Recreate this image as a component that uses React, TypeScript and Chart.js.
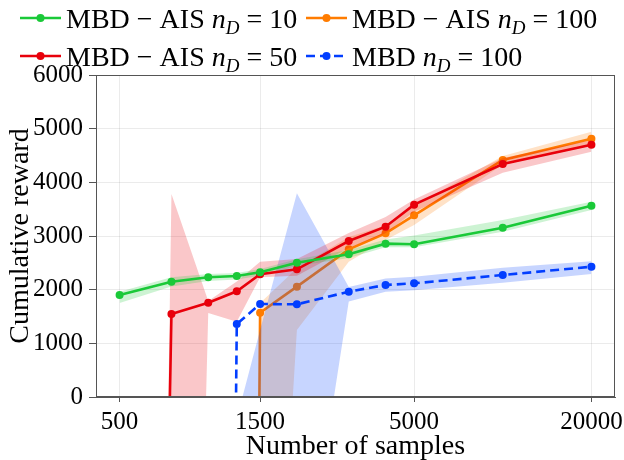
import React, { useEffect, useRef } from 'react';
import { Chart, registerables } from 'chart.js';

Chart.register(...registerables);

// ---- data ----
const SAMPLES = [500, 750, 1000, 1250, 1500, 2000, 3000, 4000, 5000, 10000, 20000];
const X_TICKS = [500, 1500, 5000, 20000];
const Y_MIN = 0;
const Y_MAX = 6000;
const Y_STEP = 1000;

// MBD-AIS nD=10
const AIS10_MEAN = [1900, 2149, 2230, 2255, 2323, 2502, 2658, 2857, 2845, 3155, 3565];
const AIS10_HIGH = [1962, 2230, 2290, 2310, 2385, 2565, 2740, 2935, 3010, 3300, 3640];
const AIS10_LOW = [1750, 2060, 2160, 2190, 2260, 2440, 2590, 2790, 2790, 3080, 3485];

// MBD-AIS nD=50
const AIS50_MEAN = [-50000, 1546, 1758, 1969, 2286, 2379, 2907, 3174, 3584, 4341, 4700];
const AIS50_HIGH = [-60000, 3783, 1790, 2150, 2520, 2570, 3055, 3354, 3680, 4455, 4785];
const AIS50_LOW = [-60000, -25000, 1565, 1400, 2230, 2260, 2775, 3050, 3450, 4180, 4570];

// MBD-AIS nD=100
const AIS100_MEAN = [null, null, null, -50000, 1571, 2056, 2751, 3050, 3385, 4416, 4813];
const AIS100_HIGH = [null, null, null, -60000, 1750, 2400, 2980, 3200, 3560, 4490, 4943];
const AIS100_LOW = [null, null, null, -60000, -10000, 1250, 2520, 2925, 3205, 4330, 4680];

// MBD nD=100
const MBD100_MEAN = [null, null, -50000, 1360, 1733, 1727, 1962, 2087, 2118, 2273, 2428];
const MBD100_HIGH = [null, null, -60000, -400, 1250, 3795, 2050, 2210, 2240, 2410, 2530];
const MBD100_LOW = [null, null, -60000, -50000, -50000, -4450, 1780, 1960, 1990, 2130, 2290];

const LEGEND_NAMES = ['MBD − AIS', 'MBD − AIS', 'MBD − AIS', 'MBD'];
const LEGEND_ND = ['10', '100', '50', '100'];

const X_TITLE = 'Number of samples';
const Y_TITLE = 'Cumulative reward';

// ---- styles ----
const GREEN = '#1ac938';
const ORANGE = '#ff7c00';
const RED = '#e8000b';
const BLUE = '#023eff';
const FONT = '"Liberation Serif", "Times New Roman", serif';

function alpha(hex: string, a: number) {
  const r = parseInt(hex.slice(1, 3), 16);
  const g = parseInt(hex.slice(3, 5), 16);
  const b = parseInt(hex.slice(5, 7), 16);
  return `rgba(${r},${g},${b},${a})`;
}

function pts(arr: (number | null)[]) {
  const out: { x: number; y: number }[] = [];
  SAMPLES.forEach((x, i) => {
    const v = arr[i];
    if (v !== null && v !== undefined) out.push({ x, y: v });
  });
  return out;
}

function lineDs(arr: (number | null)[], color: string, order: number, dashed = false) {
  return {
    data: pts(arr),
    borderColor: color,
    backgroundColor: color,
    borderWidth: 2.6,
    borderDash: dashed ? [9, 5] : [],
    pointRadius: 4,
    pointBorderWidth: 0,
    pointBackgroundColor: color,
    fill: false,
    tension: 0,
    order,
  };
}

function bandLow(arr: (number | null)[], order: number) {
  return {
    data: pts(arr),
    borderColor: 'transparent',
    borderWidth: 0,
    pointRadius: 0,
    fill: false,
    tension: 0,
    order,
  };
}

function bandHigh(arr: (number | null)[], color: string, target: number, order: number) {
  return {
    data: pts(arr),
    borderColor: 'transparent',
    borderWidth: 0,
    pointRadius: 0,
    backgroundColor: alpha(color, 0.22),
    fill: { target, above: alpha(color, 0.22), below: alpha(color, 0.22) },
    tension: 0,
    order,
  };
}

const legendPlugin = {
  id: 'customLegend',
  afterDraw(chart: any) {
    const ctx = chart.ctx;
    const entries = [
      { color: GREEN, dashed: false, col: 0, row: 0, i: 0 },
      { color: ORANGE, dashed: false, col: 1, row: 0, i: 1 },
      { color: RED, dashed: false, col: 0, row: 1, i: 2 },
      { color: BLUE, dashed: true, col: 1, row: 1, i: 3 },
    ];
    const colX = [20, 306];
    const rowY = [18, 56];
    ctx.save();
    entries.forEach((e) => {
      const x0 = colX[e.col];
      const y = rowY[e.row];
      ctx.strokeStyle = e.color;
      ctx.lineWidth = 2.6;
      ctx.setLineDash(e.dashed ? [9, 5] : []);
      ctx.beginPath();
      ctx.moveTo(x0, y);
      ctx.lineTo(x0 + 41, y);
      ctx.stroke();
      ctx.setLineDash([]);
      ctx.fillStyle = e.color;
      ctx.beginPath();
      ctx.arc(x0 + 20.5, y, 4, 0, Math.PI * 2);
      ctx.fill();

      let cx = x0 + 46;
      const base = y + 10;
      ctx.fillStyle = '#000';
      ctx.textBaseline = 'alphabetic';
      ctx.textAlign = 'left';
      const seg = (t: string, font: string, dy = 0) => {
        ctx.font = font;
        ctx.fillText(t, cx, base + dy);
        cx += ctx.measureText(t).width;
      };
      seg(LEGEND_NAMES[e.i] + ' ', `28px ${FONT}`);
      seg('n', `italic 28px ${FONT}`);
      seg('D', `italic 19px ${FONT}`, 6);
      seg(' = ' + LEGEND_ND[e.i], `28px ${FONT}`);
    });
    ctx.restore();
  },
};

const framePlugin = {
  id: 'frame',
  afterDatasetsDraw(chart: any) {
    const { ctx, chartArea } = chart;
    ctx.save();
    ctx.strokeStyle = '#555';
    ctx.lineWidth = 1;
    ctx.strokeRect(
      Math.round(chartArea.left) + 0.5,
      Math.round(chartArea.top) + 0.5,
      Math.round(chartArea.right - chartArea.left) - 1,
      Math.round(chartArea.bottom - chartArea.top) - 1
    );
    ctx.restore();
  },
};

export default function App() {
  const ref = useRef<HTMLCanvasElement | null>(null);

  useEffect(() => {
    if (!ref.current) return;
    const datasets: any[] = [
      lineDs(AIS10_MEAN, GREEN, 1), // 0
      lineDs(AIS50_MEAN, RED, 2), // 1
      lineDs(MBD100_MEAN, BLUE, 3, true), // 2
      bandLow(AIS10_LOW, 4), // 3
      bandHigh(AIS10_HIGH, GREEN, 3, 4), // 4
      bandLow(AIS50_LOW, 5), // 5
      bandHigh(AIS50_HIGH, RED, 5, 5), // 6
      bandLow(MBD100_LOW, 6), // 7
      bandHigh(MBD100_HIGH, BLUE, 7, 6), // 8
      lineDs(AIS100_MEAN, ORANGE, 7), // 9
      bandLow(AIS100_LOW, 8), // 10
      bandHigh(AIS100_HIGH, ORANGE, 10, 8), // 11
    ];

    const tickFont = { family: FONT, size: 25 };
    const xTitleFont = { family: FONT, size: 28, lineHeight: 0.95 };
    const yTitleFont = { family: FONT, size: 28, lineHeight: 1 };

    const chart = new Chart(ref.current, {
      type: 'line',
      data: { datasets },
      options: {
        animation: false,
        responsive: false,
        maintainAspectRatio: false,
        layout: { padding: { top: 75, right: 9, left: 0, bottom: 0 } },
        plugins: {
          legend: { display: false },
          tooltip: { enabled: false },
          filler: { propagate: false },
        },
        scales: {
          x: {
            type: 'logarithmic',
            min: 415.8,
            max: 24050,
            afterBuildTicks: (s: any) => {
              s.ticks = X_TICKS.map((v) => ({ value: v }));
            },
            afterFit: (s: any) => {
              s.height = 63;
              s.paddingLeft = 0;
              s.paddingRight = 0;
            },
            ticks: {
              font: tickFont,
              color: '#000',
              autoSkip: false,
              maxRotation: 0,
              padding: 5,
              callback: (v: any) => String(v),
            },
            grid: { color: 'rgba(0,0,0,0.08)', tickColor: '#555', tickLength: 5, lineWidth: 1 },
            border: { color: '#555' },
            title: { display: true, text: X_TITLE, font: xTitleFont, color: '#000', padding: { top: 0, bottom: 0 } },
          },
          y: {
            min: Y_MIN,
            max: Y_MAX,
            afterFit: (s: any) => {
              s.width = 96;
              s.paddingTop = 0;
              s.paddingBottom = 0;
            },
            ticks: {
              stepSize: Y_STEP,
              font: tickFont,
              color: '#000',
              padding: 6,
              callback: (v: any) => String(v),
            },
            grid: { color: 'rgba(0,0,0,0.08)', tickColor: '#555', tickLength: 7, lineWidth: 1 },
            border: { color: '#555' },
            title: { display: true, text: Y_TITLE, font: yTitleFont, color: '#000', padding: { top: 7, bottom: 0 } },
          },
        },
      },
      plugins: [legendPlugin, framePlugin],
    });
    return () => chart.destroy();
  }, []);

  return (
    <div style={{ position: 'absolute', left: 0, top: 0, width: 624, height: 460, background: '#fff' }}>
      <canvas ref={ref} width={624} height={460} style={{ display: 'block', width: 624, height: 460 }} />
    </div>
  );
}
